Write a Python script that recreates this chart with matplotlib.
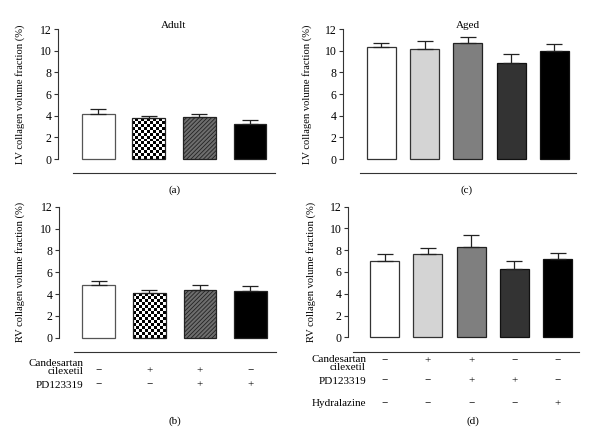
import numpy as np
import matplotlib
matplotlib.use("Agg")
import matplotlib.pyplot as plt
from matplotlib.transforms import blended_transform_factory

plt.rcParams['font.family'] = ['Liberation Serif', 'DejaVu Serif']

# ---- data ----
adult_lv = [4.12, 3.78, 3.85, 3.26]
adult_lv_err = [0.48, 0.16, 0.30, 0.31]
adult_rv = [4.85, 4.07, 4.40, 4.25]
adult_rv_err = [0.31, 0.30, 0.45, 0.51]
aged_lv = [10.31, 10.18, 10.71, 8.89, 9.97]
aged_lv_err = [0.37, 0.74, 0.58, 0.83, 0.67]
aged_rv = [7.01, 7.63, 8.33, 6.28, 7.17]
aged_rv_err = [0.65, 0.55, 1.04, 0.76, 0.55]

yticks = [0, 2, 4, 6, 8, 10, 12]
adult_rows = ["Candesartan\ncilexetil", "PD123319"]
adult_signs = [["−", "+", "+", "−"], ["−", "−", "+", "+"]]
aged_rows = ["Candesartan\ncilexetil", "PD123319", "Hydralazine"]
aged_signs = [["−", "+", "+", "−", "−"],
              ["−", "−", "+", "+", "−"],
              ["−", "−", "−", "−", "+"]]

W, H = 600, 447
fig = plt.figure(figsize=(6, 4.47), dpi=100)


def fx(x):
    return x / W


def fy(y):
    return 1 - y / H


def make_axes(spine_x, right_x, top_y, zero_y, line_y, xlim, line_bounds):
    ax = fig.add_axes([fx(spine_x), fy(line_y), fx(right_x - spine_x), (line_y - top_y) / H])
    ppu = (zero_y - top_y) / 12.0
    ax.set_xlim(*xlim)
    ax.set_ylim(-(line_y - zero_y) / ppu, 12)
    for s in ['top', 'right']:
        ax.spines[s].set_visible(False)
    ax.spines['left'].set_bounds(0, 12)
    ax.spines['bottom'].set_bounds(*line_bounds)
    for s in ['left', 'bottom']:
        ax.spines[s].set_color('#333333')
        ax.spines[s].set_linewidth(0.8)
    ax.set_xticks([])
    ax.set_yticks(yticks)
    ax.tick_params(axis='y', direction='out', length=3, width=0.8, color='#333333',
                   labelsize=8.5, pad=1.5)
    return ax


def checker_fill(ax, bar, square_px=3.0):
    x0, w, h = bar.get_x(), bar.get_width(), bar.get_height()
    p0 = ax.transData.transform((x0, 0))
    p1 = ax.transData.transform((x0 + w, h))
    wpx, hpx = abs(p1[0] - p0[0]), abs(p1[1] - p0[1])
    nc = max(1, int(round(wpx / square_px)))
    nr = max(1, int(round(hpx / square_px)))
    arr = (np.indices((nr, nc)).sum(axis=0) % 2).astype(float)
    ax.imshow(arr, extent=(x0, x0 + w, 0, h), aspect='auto', cmap='gray',
              interpolation='nearest', zorder=2, origin='lower')


def draw_bars(ax, vals, errs, width, styles):
    x = np.arange(len(vals))
    bars = ax.bar(x, vals, width=width, zorder=3, linewidth=0.9)
    ax.errorbar(x, vals, yerr=[np.zeros(len(vals)), errs], fmt='none',
                ecolor='#222222', elinewidth=0.9, capsize=5.5, capthick=0.9, zorder=4)
    xl = ax.get_xlim()
    for b, st in zip(bars, styles):
        kind = st[0]
        if kind == 'solid':
            b.set_facecolor(st[1])
            b.set_edgecolor(st[2])
        elif kind == 'checker':
            b.set_facecolor('none')
            b.set_edgecolor('#222222')
            checker_fill(ax, b)
        elif kind == 'hatch':
            b.set_facecolor('#6e6e6e')
            b.set_edgecolor('#222222')
            b.set_hatch('////////')
    ax.set_xlim(xl)
    return bars


adult_styles = [('solid', 'white', '#555555'), ('checker',), ('hatch',),
                ('solid', 'black', '#222222')]
aged_styles = [('solid', 'white', '#333333'), ('solid', '#d4d4d4', '#333333'),
               ('solid', '#7f7f7f', '#222222'), ('solid', '#333333', '#111111'),
               ('solid', 'black', '#111111')]

plt.rcParams['hatch.linewidth'] = 0.6

LBL = 7.6
TXT = 8

# (a)
axa = make_axes(58, 277.7, 29, 159, 173, (-0.80, 3.55), (-0.5, 3.5))
draw_bars(axa, adult_lv, adult_lv_err, 0.65, adult_styles)
axa.set_ylabel("LV collagen volume fraction (%)", fontsize=LBL)
axa.yaxis.set_label_coords(fx(25), fy(94), transform=fig.transFigure)
fig.text(fx(174), fy(26), "Adult", ha='center', va='center', fontsize=TXT)
fig.text(fx(175), fy(190), "(a)", ha='center', va='center', fontsize=TXT)

# (c)
axc = make_axes(342.7, 578.3, 29, 159, 173, (-0.89, 4.55), (-0.5, 4.5))
draw_bars(axc, aged_lv, aged_lv_err, 0.67, aged_styles)
axc.set_ylabel("LV collagen volume fraction (%)", fontsize=LBL)
axc.yaxis.set_label_coords(fx(311.5), fy(94), transform=fig.transFigure)
fig.text(fx(468), fy(26), "Aged", ha='center', va='center', fontsize=TXT)
fig.text(fx(467), fy(190), "(c)", ha='center', va='center', fontsize=TXT)

# (b)
axb = make_axes(58.5, 278.2, 206.7, 337.7, 352.3, (-0.80, 3.55), (-0.5, 3.5))
draw_bars(axb, adult_rv, adult_rv_err, 0.65, adult_styles)
axb.set_ylabel("RV collagen volume fraction (%)", fontsize=LBL)
axb.yaxis.set_label_coords(fx(25), fy(272), transform=fig.transFigure)
fig.text(fx(175), fy(421), "(b)", ha='center', va='center', fontsize=TXT)

# (d)
axd = make_axes(347.7, 581.5, 206.7, 337.3, 351.7, (-0.85, 4.55), (-0.73, 4.5))
draw_bars(axd, aged_rv, aged_rv_err, 0.67, aged_styles)
axd.set_ylabel("RV collagen volume fraction (%)", fontsize=LBL)
axd.yaxis.set_label_coords(fx(316), fy(272), transform=fig.transFigure)
fig.text(fx(473), fy(421), "(d)", ha='center', va='center', fontsize=TXT)

# treatment rows
tb = blended_transform_factory(axb.transData, fig.transFigure)
fig.text(fx(83.5), fy(367.5), adult_rows[0], ha='right', va='center', fontsize=TXT,
         linespacing=0.85, multialignment='right')
fig.text(fx(83.5), fy(385), adult_rows[1], ha='right', va='center', fontsize=TXT)
for r, ysign in enumerate([371, 385]):
    for i, s in enumerate(adult_signs[r]):
        axb.text(i, fy(ysign), s, transform=tb, ha='center', va='center', fontsize=TXT)

td = blended_transform_factory(axd.transData, fig.transFigure)
fig.text(fx(366), fy(363.5), aged_rows[0], ha='right', va='center', fontsize=TXT,
         linespacing=0.85, multialignment='right')
fig.text(fx(366), fy(381), aged_rows[1], ha='right', va='center', fontsize=TXT)
fig.text(fx(366), fy(404), aged_rows[2], ha='right', va='center', fontsize=TXT)
for r, ysign in enumerate([360.5, 381, 404]):
    for i, s in enumerate(aged_signs[r]):
        axd.text(i, fy(ysign), s, transform=td, ha='center', va='center', fontsize=TXT)

fig.savefig("out.png", dpi=100)
